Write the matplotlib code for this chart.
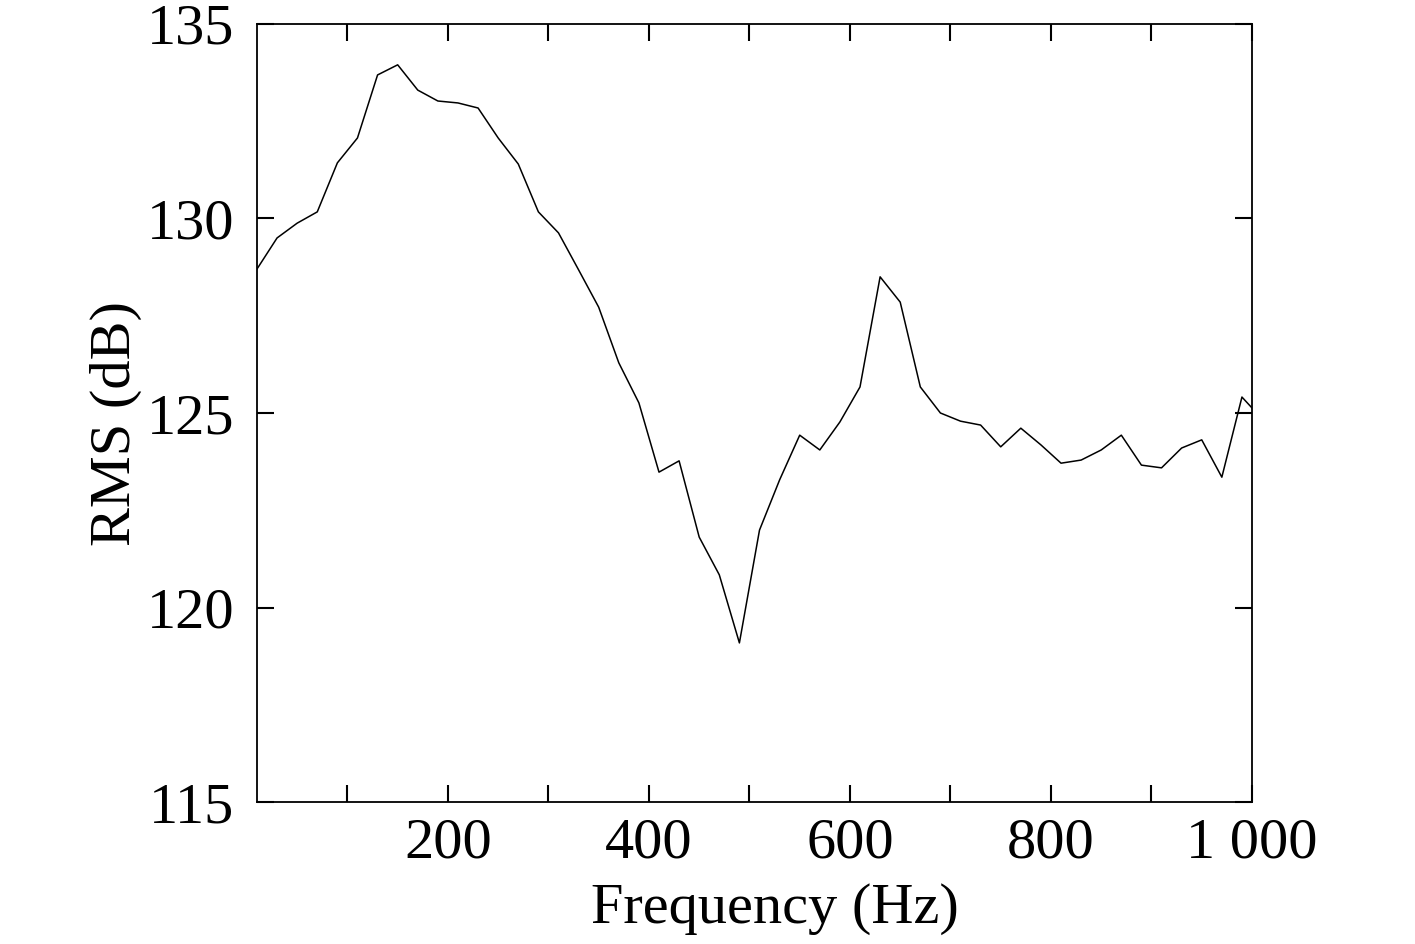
import matplotlib
matplotlib.use('Agg')
import matplotlib.pyplot as plt

# Frequency points (Hz)
freq = [10, 30, 50, 70, 90, 110, 130, 150, 170, 190,
        210, 230, 250, 270, 290, 310, 330, 350, 370, 390,
        410, 430, 450, 470, 490, 510, 530, 550, 570, 590,
        610, 630, 650, 670, 690, 710, 730, 750, 770, 790,
        810, 830, 850, 870, 890, 910, 930, 950, 970, 990, 1000]

# RMS level (dB)
rms = [128.70, 129.50, 129.88, 130.17, 131.43, 132.07, 133.69, 133.95, 133.30, 133.02,
       132.97, 132.84, 132.07, 131.40, 130.17, 129.63, 128.68, 127.72, 126.29, 125.26,
       123.48, 123.77, 121.81, 120.84, 119.09, 121.99, 123.28, 124.43, 124.05, 124.77,
       125.67, 128.50, 127.85, 125.67, 125.00, 124.79, 124.69, 124.13, 124.61, 124.18,
       123.71, 123.79, 124.05, 124.43, 123.66, 123.59, 124.10, 124.31, 123.35, 125.41, 125.13]

x_ticks = [100, 200, 300, 400, 500, 600, 700, 800, 900, 1000]
x_tick_labels = ['', '200', '', '400', '', '600', '', '800', '', '1 000']
y_ticks = [115, 120, 125, 130, 135]

plt.rcParams['font.family'] = ['Liberation Serif', 'DejaVu Serif']

fig = plt.figure(figsize=(14.15, 9.44), dpi=100)
ax = fig.add_axes([0.1816, 0.1504, 0.7032, 0.8242])

ax.plot(freq, rms, color='black', linewidth=1.1)

ax.set_xlim(10, 1000)
ax.set_ylim(115, 135)
ax.set_xticks(x_ticks)
ax.set_xticklabels(x_tick_labels)
ax.set_yticks(y_ticks)

ax.tick_params(direction='in', length=12, width=1.5, top=True, right=True,
               labelsize=42)
ax.tick_params(axis='y', pad=16.5)
ax.tick_params(axis='x', pad=11)
for s in ax.spines.values():
    s.set_linewidth(1.3)

ax.set_xlabel('Frequency (Hz)', fontsize=42)
ax.set_ylabel('RMS (dB)', fontsize=42)
ax.xaxis.set_label_coords(0.5206, -0.104)
ax.yaxis.set_label_coords(-0.1156, 0.486)

fig.savefig('out.png', dpi=100)
